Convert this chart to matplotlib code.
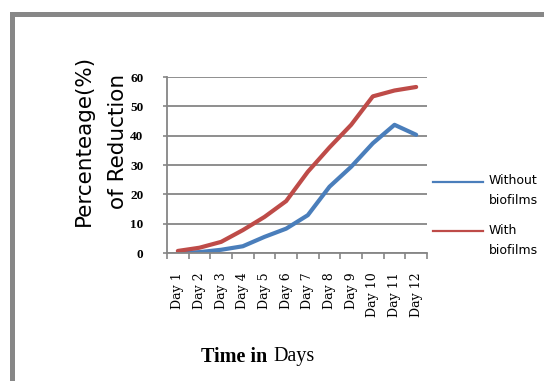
import matplotlib.pyplot as plt
from matplotlib.patches import Rectangle
from matplotlib.lines import Line2D
import numpy as np

days = ['Day 1', 'Day 2', 'Day 3', 'Day 4', 'Day 5', 'Day 6',
        'Day 7', 'Day 8', 'Day 9', 'Day 10', 'Day 11', 'Day 12']
without_biofilms = [0.0, 0.3, 1.1, 2.3, 5.5, 8.3, 12.9, 22.6, 29.4, 37.4, 43.7, 40.3]
with_biofilms = [0.7, 1.8, 3.8, 7.8, 12.3, 17.7, 27.7, 36.0, 43.7, 53.4, 55.4, 56.6]
y_ticks = [0, 10, 20, 30, 40, 50, 60]

blue = '#4a7ebb'
red = '#be4b48'
grid_gray = '#868686'

W, H = 544, 381
fig = plt.figure(figsize=(W / 100, H / 100), dpi=100)
ax = fig.add_axes([167 / W, 1 - 253 / H, (427 - 167) / W, (253 - 77) / H])

x = np.arange(len(days))
ax.plot(x, without_biofilms, color=blue, lw=3.0, solid_capstyle='round')
ax.plot(x, with_biofilms, color=red, lw=3.0, solid_capstyle='round')

ax.set_xlim(-0.5, len(days) - 0.5)
ax.set_ylim(0, 60)
ax.set_yticks(y_ticks)
ax.set_yticklabels([str(v) for v in y_ticks], fontfamily='Liberation Serif',
                   fontweight='bold', fontsize=9.5)
ax.yaxis.grid(True, color=grid_gray, lw=1.3)
ax.set_axisbelow(True)

# category boundaries carry the tick marks, day names sit between them
ax.set_xticks(np.arange(-0.5, len(days), 1.0))
ax.set_xticklabels([])
ax.set_xticks(x, minor=True)
ax.set_xticklabels(days, minor=True, rotation=90, va='top', ha='center',
                   fontfamily='DejaVu Serif', fontsize=9)
ax.tick_params(axis='x', which='major', length=4, color=grid_gray, width=1.2)
ax.tick_params(axis='x', which='minor', length=0, pad=14)
ax.tick_params(axis='y', length=3, color=grid_gray, width=1.2, pad=14)

for side in ['top', 'right']:
    ax.spines[side].set_visible(False)
for side in ['left', 'bottom']:
    ax.spines[side].set_color(grid_gray)
    ax.spines[side].set_linewidth(1.3)

# axis titles
fig.text(84 / W, 1 - 140 / H, 'Percenteage(%)', rotation=90, ha='center', va='center',
         fontsize=15.5, fontfamily='DejaVu Sans')
fig.text(118 / W, 1 - 141 / H, 'of Reduction', rotation=90, ha='center', va='center',
         fontsize=15.5, fontfamily='DejaVu Sans')
fig.text(267 / W, 1 - 357 / H, 'Time in', ha='right', va='center',
         fontsize=14.5, fontfamily='Liberation Serif', fontweight='bold')
fig.text(273 / W, 1 - 357 / H, 'Days', ha='left', va='center',
         fontsize=14.5, fontfamily='Liberation Serif')

# legend
legend_items = [(blue, 'Without', 'biofilms', 182), (red, 'With', 'biofilms', 231)]
for color, first, second, ly in legend_items:
    fig.add_artist(Line2D([433 / W, 483 / W], [1 - ly / H, 1 - ly / H],
                          transform=fig.transFigure, color=color, lw=1.6))
    fig.text(489 / W, 1 - (ly - 1) / H, first, ha='left', va='center',
             fontsize=9, fontfamily='DejaVu Sans')
    fig.text(489 / W, 1 - (ly + 19) / H, second, ha='left', va='center',
             fontsize=9, fontfamily='DejaVu Sans')

# gray border around the chart
border = '#878787'
fig.add_artist(Rectangle((10 / W, 0), 5 / W, 1 - 12 / H, transform=fig.transFigure,
                         color=border, lw=0))
fig.add_artist(Rectangle((10 / W, 1 - 17 / H), 1 - 10 / W, 5 / H, transform=fig.transFigure,
                         color=border, lw=0))

fig.savefig('out.png', dpi=100)
